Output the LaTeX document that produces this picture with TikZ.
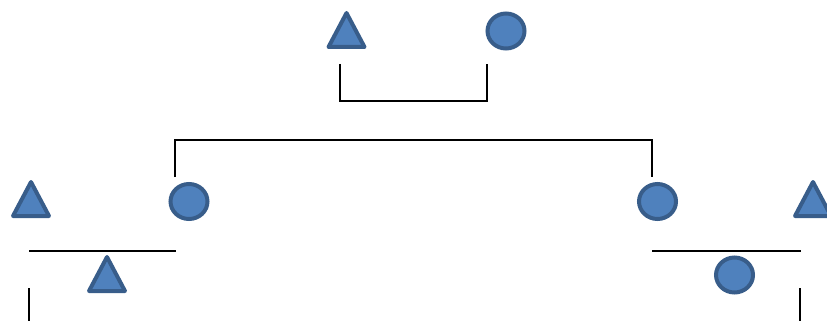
\documentclass[tikz,border=0pt]{standalone}
\usepackage{tikz}
\usetikzlibrary{shapes.geometric}
\definecolor{shapefill}{HTML}{4F81BD}
\definecolor{shapeline}{HTML}{385D8A}

\begin{document}
\begin{tikzpicture}[
  x=1pt, y=-1pt,
  tri/.style={draw=shapeline,fill=shapefill,line width=4pt,line join=round,
    isosceles triangle,isosceles triangle apex angle=57,shape border rotate=90,
    isosceles triangle stretches,minimum width=36pt,minimum height=34pt,
    inner sep=0pt,outer sep=0pt,anchor=south},
  circ/.style={draw=shapeline,fill=shapefill,line width=4pt,ellipse,
    minimum width=37pt,minimum height=35pt,inner sep=0pt},
  bar/.style={line width=2pt}
]
  \useasboundingbox (0,0) rectangle (827,321);

  % top pair
  \node[tri] (t1) at (346.5,47) {};
  \node[circ] (c1) at (506,31) {};

  % middle row
  \node[tri] (t2) at (31,216) {};
  \node[circ] (c2) at (189,201.5) {};
  \node[circ] (c3) at (657.5,201.5) {};
  \node[tri] (t3) at (813,216) {};

  % bottom row
  \node[tri] (t4) at (107,291) {};
  \node[circ] (c4) at (734.5,275) {};

  % bracket ends
  \coordinate (a1) at (340,64);
  \coordinate (a2) at (487,64);
  \coordinate (b1) at (175,177);
  \coordinate (b2) at (652,177);
  \coordinate (l1) at (29,251);
  \coordinate (l2) at (176,251);
  \coordinate (l3) at (29,288);
  \coordinate (l4) at (29,321);
  \coordinate (r1) at (652,251);
  \coordinate (r2) at (801,251);
  \coordinate (r3) at (800,288);
  \coordinate (r4) at (800,321);

  % brackets
  \draw[bar] (a1) |- (487,101) -- (a2);
  \draw[bar] (b1) |- (652,140) -- (b2);
  \draw[bar] (l1) -- (l2);
  \draw[bar] (l3) -- (l4);
  \draw[bar] (r1) -- (r2);
  \draw[bar] (r3) -- (r4);

\end{tikzpicture}
\end{document}
